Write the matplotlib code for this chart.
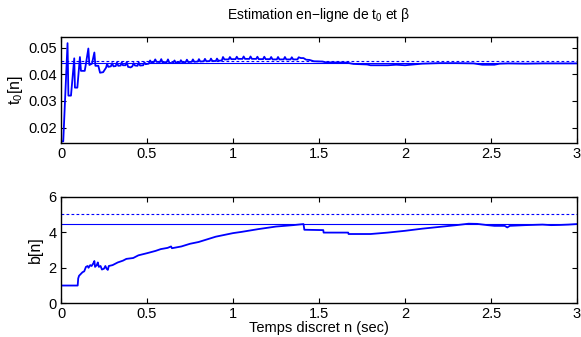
import matplotlib
matplotlib.use("Agg")
import matplotlib.pyplot as plt

plt.rcParams['font.family'] = ['Liberation Sans', 'DejaVu Sans']
plt.rcParams['mathtext.default'] = 'regular'

title = r"Estimation en$-$ligne de t$_0$ et β"
xlabel = "Temps discret n (sec)"
ylabel_top = r"t$_0$[n]"
ylabel_bot = "b[n]"

xticks = [0, 0.5, 1, 1.5, 2, 2.5, 3]
xticklabels = ["0", "0.5", "1", "1.5", "2", "2.5", "3"]
yticks_top = [0.02, 0.03, 0.04, 0.05]
yticklabels_top = ["0.02", "0.03", "0.04", "0.05"]
yticks_bot = [0, 2, 4, 6]

t0_true = 0.045
t0_final = 0.0444
b_true = 5.0
b_final = 4.45

t_top = [0.000, 0.013, 0.038, 0.043, 0.058, 0.077, 0.081, 0.095, 0.110, 0.116,
         0.138, 0.145, 0.159, 0.165, 0.180, 0.194, 0.200, 0.217, 0.227, 0.245,
         0.262, 0.268, 0.275, 0.290, 0.297, 0.305, 0.318, 0.325, 0.333, 0.347,
         0.353, 0.360, 0.375, 0.382, 0.390, 0.405, 0.415, 0.422, 0.430, 0.445,
         0.452, 0.460, 0.478, 0.485, 0.492, 0.510, 0.518, 0.525, 0.540, 0.548,
         0.555, 0.575, 0.583, 0.590, 0.615, 0.622, 0.630, 0.650, 0.660, 0.668,
         0.690, 0.697, 0.705, 0.725, 0.732, 0.740, 0.760, 0.767, 0.775, 0.795,
         0.802, 0.810, 0.830, 0.837, 0.845, 0.865, 0.872, 0.880, 0.900, 0.907,
         0.915, 0.935, 0.942, 0.950, 0.975, 0.982, 0.990, 1.015, 1.022, 1.030,
         1.055, 1.062, 1.070, 1.095, 1.102, 1.110, 1.135, 1.142, 1.150, 1.175,
         1.182, 1.190, 1.215, 1.222, 1.230, 1.255, 1.262, 1.270, 1.295, 1.302,
         1.310, 1.335, 1.342, 1.350, 1.375, 1.382, 1.395, 1.410, 1.425, 1.445,
         1.470, 1.520, 1.540, 1.660, 1.700, 1.780, 1.800, 1.900, 1.950, 2.000,
         2.050, 2.100, 2.200, 2.300, 2.400, 2.450, 2.520, 2.550, 2.600, 2.700,
         2.800, 2.900, 3.000]
v_top = [0.0148, 0.0148, 0.0517, 0.0320, 0.0320, 0.0460, 0.0350, 0.0350, 0.0465, 0.0413,
         0.0413, 0.0440, 0.0497, 0.0435, 0.0440, 0.0482, 0.0432, 0.0432, 0.0406, 0.0408,
         0.0425, 0.0440, 0.0428, 0.0430, 0.0442, 0.0430, 0.0431, 0.0444, 0.0432, 0.0433,
         0.0445, 0.0434, 0.0434, 0.0446, 0.0428, 0.0426, 0.0430, 0.0442, 0.0433, 0.0432,
         0.0444, 0.0433, 0.0434, 0.0445, 0.0438, 0.0440, 0.0452, 0.0445, 0.0446, 0.0456,
         0.0447, 0.0446, 0.0457, 0.0445, 0.0446, 0.0456, 0.0443, 0.0442, 0.0452, 0.0443,
         0.0444, 0.0453, 0.0445, 0.0446, 0.0455, 0.0446, 0.0447, 0.0456, 0.0447, 0.0448,
         0.0457, 0.0448, 0.0449, 0.0458, 0.0449, 0.0450, 0.0459, 0.0450, 0.0450, 0.0459,
         0.0451, 0.0452, 0.0465, 0.0456, 0.0456, 0.0465, 0.0457, 0.0457, 0.0466, 0.0458,
         0.0458, 0.0467, 0.0458, 0.0458, 0.0467, 0.0458, 0.0458, 0.0466, 0.0457, 0.0457,
         0.0466, 0.0457, 0.0457, 0.0465, 0.0456, 0.0456, 0.0465, 0.0456, 0.0456, 0.0465,
         0.0456, 0.0456, 0.0464, 0.0456, 0.0456, 0.0464, 0.0461, 0.0461, 0.0455, 0.0454,
         0.0449, 0.0448, 0.0445, 0.0444, 0.0439, 0.0437, 0.0434, 0.0434, 0.0436, 0.0434,
         0.0437, 0.0440, 0.0442, 0.0442, 0.0441, 0.0436, 0.0436, 0.0440, 0.0441, 0.0440,
         0.0441, 0.0441, 0.0441]

t_bot = [0.000, 0.097, 0.100, 0.105, 0.115, 0.125, 0.135, 0.145, 0.155, 0.160,
         0.170, 0.178, 0.188, 0.194, 0.198, 0.208, 0.214, 0.220, 0.230, 0.238,
         0.250, 0.258, 0.265, 0.272, 0.278, 0.300, 0.330, 0.360, 0.380, 0.420,
         0.450, 0.500, 0.550, 0.580, 0.620, 0.640, 0.645, 0.700, 0.750, 0.800,
         0.850, 0.900, 0.950, 1.000, 1.050, 1.100, 1.150, 1.200, 1.250, 1.300,
         1.350, 1.410, 1.415, 1.525, 1.527, 1.670, 1.672, 1.800, 1.900, 2.000,
         2.100, 2.200, 2.300, 2.370, 2.420, 2.480, 2.520, 2.580, 2.595, 2.610,
         2.700, 2.800, 2.850, 2.900, 2.950, 3.000]
v_bot = [1.00, 1.00, 1.40, 1.55, 1.65, 1.75, 1.80, 2.05, 2.10, 2.00,
         2.15, 2.10, 2.25, 2.38, 2.05, 2.15, 2.30, 2.05, 2.10, 1.90,
         1.95, 2.10, 1.95, 1.88, 2.10, 2.15, 2.30, 2.40, 2.50, 2.55,
         2.70, 2.82, 2.95, 3.05, 3.12, 3.20, 3.10, 3.20, 3.35, 3.45,
         3.60, 3.75, 3.85, 3.95, 4.02, 4.10, 4.18, 4.25, 4.32, 4.36,
         4.40, 4.46, 4.14, 4.12, 3.98, 3.98, 3.90, 3.90, 3.98, 4.08,
         4.20, 4.30, 4.40, 4.48, 4.47, 4.40, 4.36, 4.36, 4.27, 4.36,
         4.40, 4.43, 4.40, 4.41, 4.43, 4.46]

blue = (0, 0, 1)
fig = plt.figure(figsize=(5.81, 3.37), dpi=100)
ax1 = fig.add_axes([0.105, 0.5748, 0.888, 0.3145])
ax2 = fig.add_axes([0.105, 0.100, 0.888, 0.3163])

for ax in (ax1, ax2):
    ax.tick_params(direction='in', top=True, right=True, length=3.5, width=0.8,
                   labelsize=10.5, pad=3, colors='black')
    for s in ax.spines.values():
        s.set_linewidth(1.0)
    ax.set_xlim(0, 3)
    ax.set_xticks(xticks)
    ax.set_xticklabels(xticklabels)

ax1.plot(t_top, v_top, color=blue, lw=1.3)
ax1.axhline(t0_true, color=blue, lw=0.8, ls=(0, (2.5, 2)))
ax1.axhline(t0_final, color=blue, lw=0.8)
ax1.set_ylim(0.0141, 0.0539)
ax1.set_yticks(yticks_top)
ax1.set_yticklabels(yticklabels_top)
ax1.set_ylabel(ylabel_top, fontsize=11.5, labelpad=2)
ax1.set_title(title, fontsize=10, pad=13)

ax2.plot(t_bot, v_bot, color=blue, lw=1.3)
ax2.axhline(b_true, color=blue, lw=0.8, ls=(0, (2.5, 2)))
ax2.axhline(b_final, color=blue, lw=0.8)
ax2.set_ylim(0, 6)
ax2.set_yticks(yticks_bot)
ax2.set_ylabel(ylabel_bot, fontsize=11.5, labelpad=4)
ax2.set_xlabel(xlabel, fontsize=10.5, labelpad=0)

fig.savefig("out.png", dpi=100)
